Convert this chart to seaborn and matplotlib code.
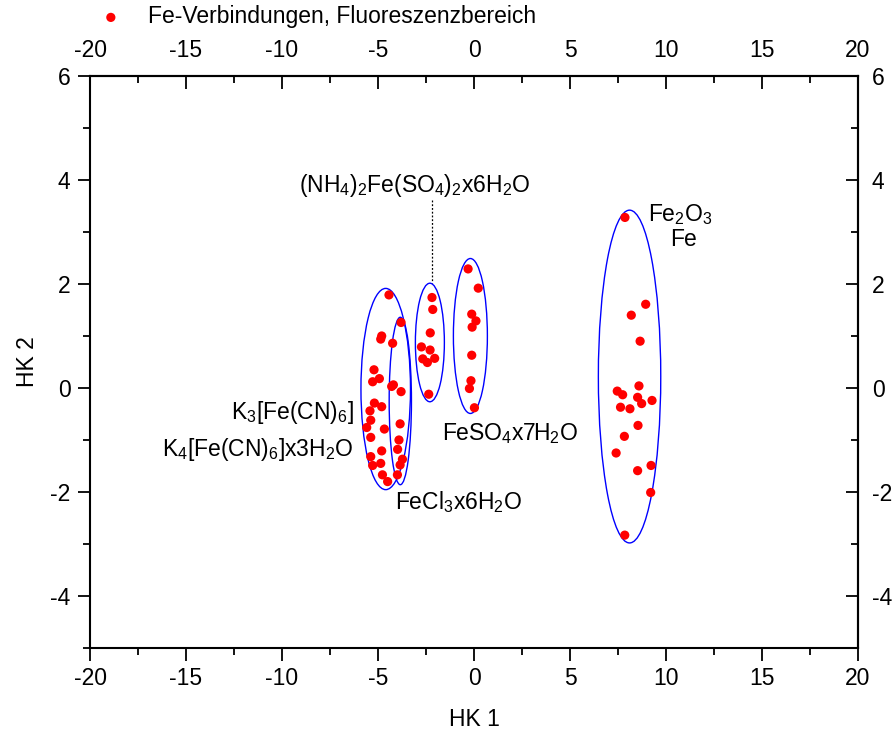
import numpy as np
import pandas as pd
import seaborn as sns
import matplotlib
matplotlib.use("Agg")
import matplotlib.pyplot as plt
from matplotlib.patches import Ellipse
from matplotlib.ticker import MultipleLocator

# Principal component scores (HK 1, HK 2) of the Fe compounds, fluorescence range
hk1_k = [-4.43, -4.81, -4.86, -4.24, -5.21, -4.93, -5.28, -4.20, -4.29, -5.19,
         -4.81, -5.42, -5.38, -5.59, -4.67, -5.38, -4.81, -5.38, -4.86, -5.28,
         -4.77, -4.50]
hk2_k = [1.79, 1.00, 0.94, 0.86, 0.35, 0.18, 0.12, 0.06, 0.03, -0.29,
         -0.36, -0.44, -0.62, -0.76, -0.79, -0.95, -1.21, -1.32, -1.45, -1.49,
         -1.67, -1.80]

hk1_fecl = [-3.80, -3.80, -3.85, -3.91, -3.98, -3.73, -3.85, -3.99]
hk2_fecl = [1.26, -0.07, -0.69, -1.00, -1.18, -1.37, -1.48, -1.67]

hk1_nh4 = [-2.19, -2.15, -2.28, -2.74, -2.29, -2.05, -2.67, -2.43, -2.36]
hk2_nh4 = [1.74, 1.51, 1.06, 0.79, 0.73, 0.57, 0.56, 0.49, -0.12]

hk1_feso4 = [-0.31, 0.22, -0.12, 0.10, -0.10, -0.12, -0.16, -0.24, 0.02]
hk2_feso4 = [2.29, 1.92, 1.42, 1.29, 1.17, 0.63, 0.14, -0.01, -0.38]

hk1_fe2o3 = [7.86, 8.94, 8.19, 8.65, 8.59, 7.46, 7.74, 8.52, 9.27, 8.73,
             7.63, 8.12, 8.54, 7.83, 7.40, 9.22, 8.52, 9.20, 7.85]
hk2_fe2o3 = [3.28, 1.61, 1.40, 0.90, 0.04, -0.06, -0.13, -0.18, -0.24, -0.30,
             -0.37, -0.40, -0.72, -0.93, -1.25, -1.49, -1.59, -2.01, -2.83]

# Group ellipses: centre x, centre y, width, height
ell_cx = [-4.60, -3.84, -2.30, -0.19, 8.10]
ell_cy = [-0.02, -0.25, 0.875, 1.00, 0.22]
ell_w = [2.58, 1.16, 1.51, 1.77, 3.25]
ell_h = [3.87, 3.22, 2.28, 2.98, 6.40]

x_ticks = [-20, -15, -10, -5, 0, 5, 10, 15, 20]
y_ticks = [-4, -2, 0, 2, 4, 6]

df = pd.DataFrame({
    "HK 1": hk1_k + hk1_fecl + hk1_nh4 + hk1_feso4 + hk1_fe2o3,
    "HK 2": hk2_k + hk2_fecl + hk2_nh4 + hk2_feso4 + hk2_fe2o3,
})

sns.set_theme(style="ticks")
plt.rcParams["font.family"] = ["Liberation Sans", "DejaVu Sans"]
plt.rcParams["mathtext.fontset"] = "custom"
plt.rcParams["mathtext.rm"] = "Liberation Sans"
plt.rcParams["mathtext.it"] = "Liberation Sans"
plt.rcParams["mathtext.default"] = "rm"
plt.rcParams["axes.unicode_minus"] = False
for key in ["text.color", "axes.labelcolor", "xtick.color", "ytick.color",
            "axes.edgecolor", "xtick.labelcolor", "ytick.labelcolor"]:
    plt.rcParams[key] = "black"

FS = 16.5
fig = plt.figure(figsize=(8.95, 7.35), dpi=100)
ax = fig.add_axes([0.1006, 0.1184, 0.8581, 0.7782])

sns.scatterplot(data=df, x="HK 1", y="HK 2", ax=ax, color="#ff0000",
                edgecolor="none", s=44, linewidth=0,
                label="Fe-Verbindungen, Fluoreszenzbereich", zorder=3)

for cx, cy, w, h in zip(ell_cx, ell_cy, ell_w, ell_h):
    ax.add_patch(Ellipse((cx, cy), w, h, fill=False, edgecolor="#0000ff",
                         linewidth=1.0, zorder=2))

ax.set_xlim(-20, 20)
ax.set_ylim(-5, 6)
ax.set_xticks(x_ticks)
ax.set_yticks(y_ticks)
ax.xaxis.set_minor_locator(MultipleLocator(2.5))
ax.yaxis.set_minor_locator(MultipleLocator(1))
ax.set_xlabel("HK 1", fontsize=FS, labelpad=13)
ax.set_ylabel("HK 2", fontsize=FS, labelpad=8)

for sp in ax.spines.values():
    sp.set_visible(True)
    sp.set_linewidth(1.5)
    sp.set_color("black")

ax.tick_params(which="major", direction="out", length=9, width=1.3,
               labelsize=FS, colors="black", pad=5)
ax.tick_params(which="minor", direction="out", length=5, width=1.3)

top = ax.secondary_xaxis("top")
top.set_xticks(x_ticks)
top.xaxis.set_minor_locator(MultipleLocator(2.5))
top.tick_params(which="major", direction="in", length=9, width=1.3,
                labelsize=FS, pad=10)
top.tick_params(which="minor", direction="in", length=5, width=1.3)
top.spines["top"].set_linewidth(1.5)

right = ax.secondary_yaxis("right")
right.set_yticks(y_ticks)
right.yaxis.set_minor_locator(MultipleLocator(1))
right.tick_params(which="major", direction="in", length=9, width=1.3,
                  labelsize=FS, pad=10)
right.tick_params(which="minor", direction="in", length=5, width=1.3)
right.spines["right"].set_linewidth(1.5)

# Compound labels
ax.text(-9.11, 3.9, r"(NH$_4$)$_2$Fe(SO$_4$)$_2$x6H$_2$O", fontsize=FS,
        ha="left", va="center")
ax.plot([-2.2, -2.2], [3.62, 2.02], color="black", linestyle=(0, (1.5, 1.5)),
        linewidth=0.9, zorder=1)
ax.text(-1.67, -0.87, r"FeSO$_4$x7H$_2$O", fontsize=FS, ha="left", va="center")
ax.text(-6.25, -0.48, r"K$_3$[Fe(CN)$_6$]", fontsize=FS, ha="right", va="center")
ax.text(-6.25, -1.19, r"K$_4$[Fe(CN)$_6$]x3H$_2$O", fontsize=FS, ha="right",
        va="center")
ax.text(-4.11, -2.19, r"FeCl$_3$x6H$_2$O", fontsize=FS, ha="left", va="center")
ax.text(9.06, 3.33, r"Fe$_2$O$_3$", fontsize=FS, ha="left", va="center")
ax.text(10.2, 2.85, "Fe", fontsize=FS, ha="left", va="center")

ax.legend(loc="center left", bbox_to_anchor=(0.088, 0.977),
          bbox_transform=fig.transFigure, frameon=False, fontsize=FS,
          handletextpad=0.6, borderaxespad=0, markerscale=1.0)

fig.savefig("out.png", dpi=100)
